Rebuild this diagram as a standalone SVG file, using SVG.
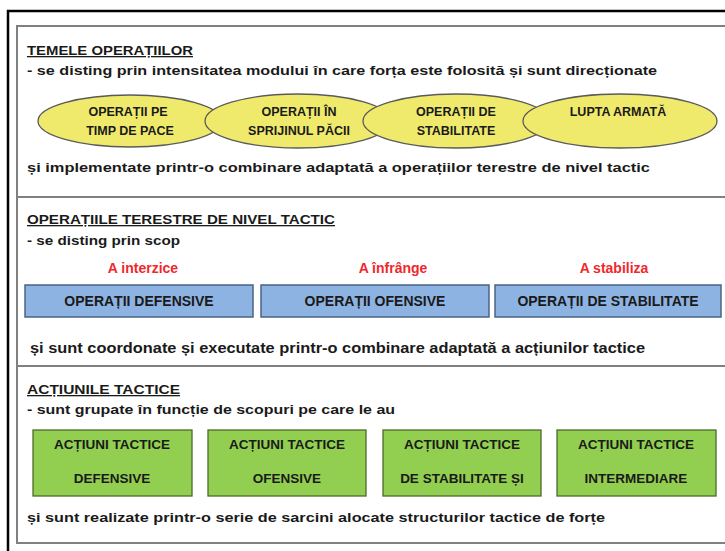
<svg xmlns="http://www.w3.org/2000/svg" width="725" height="551" viewBox="0 0 725 551">
<style>
text{font-family:"Liberation Sans",Arial,sans-serif;font-weight:bold;fill:#1a1a1a}
.t{font-size:13px}
.bt{font-size:14px}
.gt{font-size:13.5px}
.et{font-size:12.5px}
.u{text-decoration:underline}
.c{text-anchor:middle}
.red{fill:#f0282d;font-size:14px}
.ell{fill:#f0ea6c;stroke:#5a5a5a;stroke-width:1.3}
.blue{fill:#8db3e2;stroke:#4a6484;stroke-width:1.5}
.green{fill:#92cf50;stroke:#4d6a2a;stroke-width:1.3}
.frame{fill:none;stroke:#808080;stroke-width:2}
</style>
<rect x="0" y="0" width="725" height="551" fill="#fff"/>
<rect x="8" y="11" width="800" height="600" fill="none" stroke="#000" stroke-width="2.5"/>
<rect class="frame" x="17" y="26" width="800" height="517"/>
<line class="frame" x1="17" y1="197" x2="725" y2="197"/>
<line class="frame" x1="17" y1="366" x2="725" y2="366"/>

<g id="sec1">
<text class="t u" x="27" y="55" textLength="166" lengthAdjust="spacingAndGlyphs">TEMELE OPERAȚIILOR</text>
<text class="t" x="27" y="75" textLength="630" lengthAdjust="spacingAndGlyphs">- se disting prin intensitatea modului în care forța este folosită și sunt direcționate</text>
<text class="t" x="27" y="172" textLength="623" lengthAdjust="spacingAndGlyphs">și implementate printr-o combinare adaptată a operațiilor terestre de nivel tactic</text>
</g>
<g id="e1"><ellipse class="ell" cx="130" cy="121" rx="92" ry="26"/>
<text class="c et" x="128" y="116">OPERAȚII PE</text><text class="c et" x="130" y="135">TIMP DE PACE</text></g>
<g id="e2"><ellipse class="ell" cx="298" cy="121" rx="93" ry="27"/>
<text class="c et" x="299" y="116">OPERAȚII ÎN</text><text class="c et" x="299" y="135">SPRIJINUL PĂCII</text></g>
<g id="e3"><ellipse class="ell" cx="456" cy="121" rx="93" ry="27"/>
<text class="c et" x="456" y="116">OPERAȚII DE</text><text class="c et" x="456" y="135">STABILITATE</text></g>
<g id="e4"><ellipse class="ell" cx="620" cy="121" rx="97" ry="27"/>
<text class="c et" x="618" y="116">LUPTA ARMATĂ</text></g>

<g id="sec2">
<text class="t u" x="27" y="224" textLength="308" lengthAdjust="spacingAndGlyphs">OPERAȚIILE TERESTRE DE NIVEL TACTIC</text>
<text class="t" x="27" y="245" textLength="153" lengthAdjust="spacingAndGlyphs">- se disting prin scop</text>
<text class="red c" x="143" y="273">A interzice</text>
<text class="red c" x="393" y="273">A înfrânge</text>
<text class="red c" x="614" y="273">A stabiliza</text>
<text x="30" y="353" font-size="14" textLength="615" lengthAdjust="spacingAndGlyphs">și sunt coordonate și executate printr-o combinare adaptată a acțiunilor tactice</text>
</g>
<g id="b1"><rect class="blue" x="25" y="285" width="228" height="32"/><text class="bt c" x="139" y="306">OPERAȚII DEFENSIVE</text></g>
<g id="b2"><rect class="blue" x="261" y="285" width="228" height="32"/><text class="bt c" x="375" y="306">OPERAȚII OFENSIVE</text></g>
<g id="b3"><rect class="blue" x="495" y="285" width="226" height="32"/><text class="bt c" x="608" y="306">OPERAȚII DE STABILITATE</text></g>

<g id="sec3">
<text class="t u" x="27" y="394" textLength="153" lengthAdjust="spacingAndGlyphs">ACȚIUNILE  TACTICE</text>
<text class="t" x="27" y="414" textLength="368" lengthAdjust="spacingAndGlyphs">- sunt grupate în funcție de scopuri pe care le au</text>
<text class="t" x="27" y="522" textLength="578" lengthAdjust="spacingAndGlyphs">și sunt realizate printr-o serie de sarcini alocate structurilor tactice de forțe</text>
</g>
<g id="g1"><rect class="green" x="33" y="430" width="159" height="66"/><text class="c gt" x="112" y="449">ACȚIUNI TACTICE</text><text class="c gt" x="112" y="483">DEFENSIVE</text></g>
<g id="g2"><rect class="green" x="208" y="430" width="158" height="66"/><text class="c gt" x="287" y="449">ACȚIUNI TACTICE</text><text class="c gt" x="287" y="483">OFENSIVE</text></g>
<g id="g3"><rect class="green" x="383" y="430" width="158" height="66"/><text class="c gt" x="462" y="449">ACȚIUNI TACTICE</text><text class="c gt" x="462" y="483">DE STABILITATE ȘI</text></g>
<g id="g4"><rect class="green" x="557" y="430" width="159" height="66"/><text class="c gt" x="636" y="449">ACȚIUNI TACTICE</text><text class="c gt" x="636" y="483">INTERMEDIARE</text></g>
</svg>
